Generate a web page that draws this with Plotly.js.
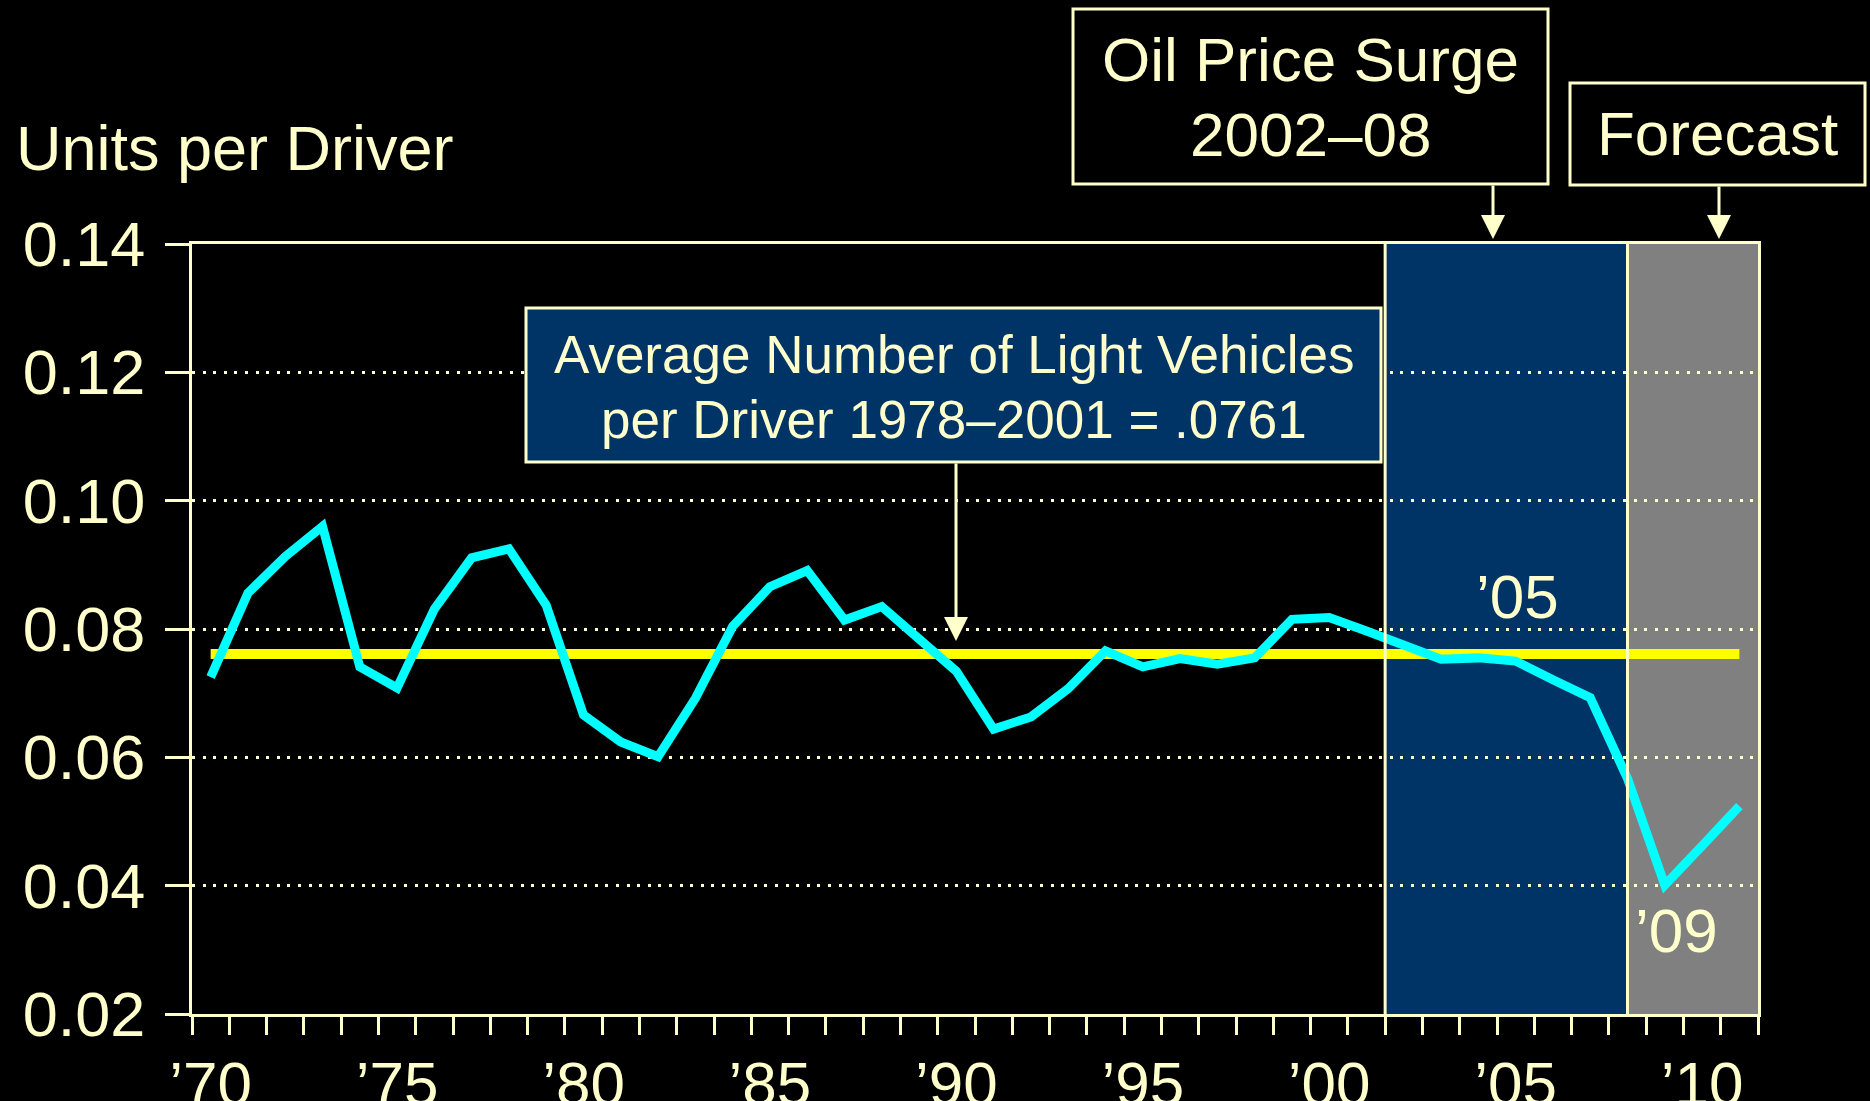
<!DOCTYPE html>
<html>
<head>
<meta charset="utf-8">
<script src="https://cdn.plot.ly/plotly-3.0.1.min.js"></script>
<style>
  html, body { margin: 0; padding: 0; background: #000000; }
  #chart { width: 1870px; height: 1101px; }
</style>
</head>
<body>
<div id="chart"></div>
<script>
// ---- Data ----
var years = [1970, 1971, 1972, 1973, 1974, 1975, 1976, 1977, 1978, 1979,
             1980, 1981, 1982, 1983, 1984, 1985, 1986, 1987, 1988, 1989,
             1990, 1991, 1992, 1993, 1994, 1995, 1996, 1997, 1998, 1999,
             2000, 2001, 2002, 2003, 2004, 2005, 2006, 2007, 2008, 2009,
             2010, 2011];
var unitsPerDriver = [0.0725, 0.0856, 0.0913, 0.0960, 0.0741, 0.0708, 0.0831, 0.0911, 0.0925, 0.0837,
                      0.0666, 0.0624, 0.0601, 0.0692, 0.0804, 0.0866, 0.0891, 0.0814, 0.0835, 0.0783,
                      0.0734, 0.0644, 0.0663, 0.0707, 0.0766, 0.0741, 0.0754, 0.0745, 0.0755, 0.0815,
                      0.0818, 0.0797, 0.0776, 0.0753, 0.0755, 0.0750, 0.0721, 0.0693, 0.0567, 0.0401,
                      0.0462, 0.0524];
var averageYears = [1970, 2011];
var averageValue = 0.0761;

var xTickVals = [1970, 1975, 1980, 1985, 1990, 1995, 2000, 2005, 2010];
var xTickText = ['\u201970', '\u201975', '\u201980', '\u201985', '\u201990', '\u201995', '\u201900', '\u201905', '\u201910'];
var yTickVals = [0.02, 0.04, 0.06, 0.08, 0.10, 0.12, 0.14];

var oilSurgeSpan = [2001.5, 2008];
var forecastSpan = [2008, 2011.5];

// ---- Styling ----
var CREAM = '#FFFFCC';
var NAVY = '#003366';
var FONT = 'Liberation Sans, Arial, Helvetica, sans-serif';

// plot-area geometry in pixels (for placing layout decorations)
var W = 1870, H = 1101;
var L = 192, R = 1758, T = 244, B = 1014;
function px(x) { return (x - L) / (R - L); }
function py(y) { return (B - y) / (B - T); }

var traces = [
  {
    x: averageYears,
    y: averageYears.map(function () { return averageValue; }),
    mode: 'lines',
    line: { color: '#FFFF00', width: 10 },
    hoverinfo: 'skip',
    showlegend: false
  },
  {
    x: years,
    y: unitsPerDriver,
    mode: 'lines',
    line: { color: '#00FFFF', width: 9 },
    hoverinfo: 'skip',
    showlegend: false
  }
];

function textAnn(x, y, text, size, anchor) {
  return {
    xref: 'paper', yref: 'paper', x: x, y: y,
    text: text, showarrow: false,
    xanchor: anchor || 'center', yanchor: 'middle',
    font: { family: FONT, size: size, color: CREAM }
  };
}
function arrowAnn(xPix, tipPix, tailPix) {
  return {
    xref: 'paper', yref: 'paper', x: px(xPix), y: py(tipPix),
    text: '', showarrow: true,
    axref: 'pixel', ayref: 'pixel', ax: 0, ay: tailPix - tipPix,
    arrowhead: 2, arrowsize: 1.6, arrowwidth: 3, arrowcolor: CREAM, standoff: 0
  };
}

var layout = {
  width: W, height: H,
  paper_bgcolor: '#000000',
  plot_bgcolor: '#000000',
  margin: { l: L, r: W - R, t: T, b: H - B, pad: 0 },
  showlegend: false,
  xaxis: {
    type: 'linear',
    range: [1969.5, 2011.5],
    tickmode: 'array',
    tickvals: xTickVals,
    ticktext: xTickText,
    ticks: 'outside', ticklen: 18, tickwidth: 3, tickcolor: 'rgba(0,0,0,0)',
    ticklabelstandoff: -4,
    minor: { tick0: 1969.5, dtick: 1, ticks: 'outside', ticklen: 18, tickwidth: 3, tickcolor: CREAM, showgrid: false },
    tickfont: { family: FONT, size: 62, color: CREAM },
    showgrid: false, zeroline: false,
    showline: true, linecolor: CREAM, linewidth: 3, mirror: true,
    fixedrange: true
  },
  yaxis: {
    range: [0.02, 0.14],
    tickmode: 'array',
    tickvals: yTickVals,
    tickformat: '.2f',
    ticks: 'outside', ticklen: 24, tickwidth: 3, tickcolor: CREAM,
    ticklabelstandoff: 7,
    tickfont: { family: FONT, size: 63, color: CREAM },
    showgrid: true, gridcolor: CREAM, gridwidth: 3, griddash: '3px,7.6px',
    zeroline: false,
    showline: true, linecolor: CREAM, linewidth: 3, mirror: true,
    fixedrange: true
  },
  shapes: [
    { type: 'rect', layer: 'below', xref: 'x', yref: 'paper',
      x0: oilSurgeSpan[0], x1: oilSurgeSpan[1], y0: 0, y1: 1,
      fillcolor: NAVY, line: { width: 0 } },
    { type: 'rect', layer: 'below', xref: 'x', yref: 'paper',
      x0: forecastSpan[0], x1: forecastSpan[1], y0: 0, y1: 1,
      fillcolor: '#808080', line: { width: 0 } },
    { type: 'line', layer: 'above', xref: 'x', yref: 'paper',
      x0: oilSurgeSpan[0], x1: oilSurgeSpan[0], y0: 0, y1: 1,
      line: { color: CREAM, width: 3 } },
    { type: 'line', layer: 'above', xref: 'x', yref: 'paper',
      x0: forecastSpan[0], x1: forecastSpan[0], y0: 0, y1: 1,
      line: { color: CREAM, width: 3 } },
    // annotation boxes
    { type: 'rect', layer: 'above', xref: 'paper', yref: 'paper',
      x0: px(526), x1: px(1381), y0: py(462), y1: py(308),
      fillcolor: NAVY, line: { color: CREAM, width: 3 } },
    { type: 'rect', layer: 'above', xref: 'paper', yref: 'paper',
      x0: px(1073), x1: px(1548), y0: py(184), y1: py(9),
      fillcolor: '#000000', line: { color: CREAM, width: 3 } },
    { type: 'rect', layer: 'above', xref: 'paper', yref: 'paper',
      x0: px(1570), x1: px(1865), y0: py(185), y1: py(83),
      fillcolor: '#000000', line: { color: CREAM, width: 3 } }
  ],
  annotations: [
    textAnn(px(14), py(148), 'Units per Driver', 63, 'left'),
    textAnn(px(953.5), py(354), 'Average Number of Light Vehicles', 53),
    textAnn(px(953.5), py(419), 'per Driver 1978\u20132001 = .0761', 53),
    textAnn(px(1310.5), py(60), 'Oil Price Surge', 62),
    textAnn(px(1310.5), py(135), '2002\u201308', 62),
    textAnn(px(1717), py(133), 'Forecast', 62),
    textAnn(px(1517), py(596), '\u201905', 62),
    textAnn(px(1676), py(930), '\u201909', 62),
    arrowAnn(956, 641, 462),
    arrowAnn(1493, 239, 184),
    arrowAnn(1719, 239, 185)
  ]
};

Plotly.newPlot('chart', traces, layout, { staticPlot: true, displayModeBar: false });
</script>
</body>
</html>
